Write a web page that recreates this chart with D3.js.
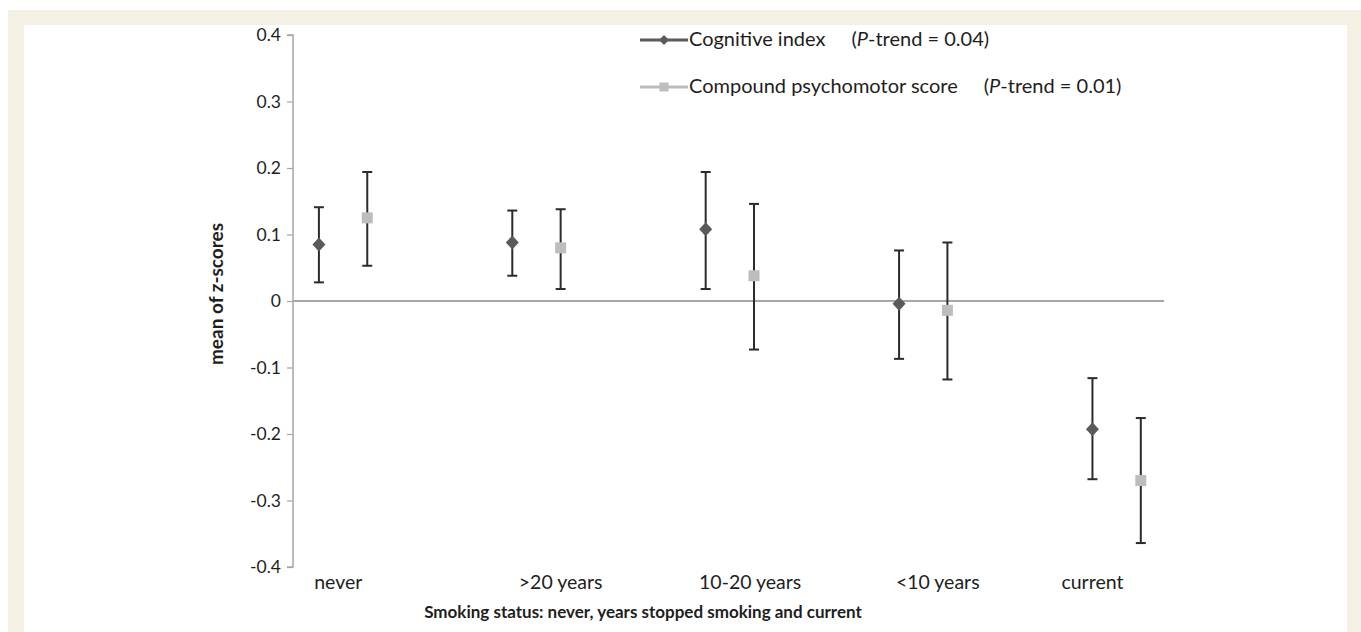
<!DOCTYPE html>
<html>
<head>
<meta charset="utf-8">
<script src="https://cdn.jsdelivr.net/npm/d3@7"></script>
<style>
  html, body { margin: 0; padding: 0; background: #ffffff; }
  svg { display: block; }
  text { font-family: Lato, "Open Sans", "Liberation Sans", sans-serif; fill: #1e1e1e; }
</style>
</head>
<body>
<svg id="chart" width="1361" height="632"></svg>
<script>
// Smoking status groups (x positions are 1..5)
const categories = ["never", ">20 years", "10-20 years", "<10 years", "current"];

// Cognitive index: mean z-score with lower / upper CI
const cognitiveMean  = [0.085, 0.088, 0.108, -0.004, -0.193];
const cognitiveLower = [0.028, 0.038, 0.018, -0.087, -0.268];
const cognitiveUpper = [0.141, 0.136, 0.194, 0.076, -0.116];

// Compound psychomotor score: mean z-score with lower / upper CI
const psychoMean  = [0.125, 0.080, 0.038, -0.014, -0.270];
const psychoLower = [0.053, 0.018, -0.073, -0.118, -0.364];
const psychoUpper = [0.194, 0.138, 0.146, 0.088, -0.176];

const yTicks = [0.4, 0.3, 0.2, 0.1, 0, -0.1, -0.2, -0.3, -0.4];
const yTickLabels = ["0.4", "0.3", "0.2", "0.1", "0", "-0.1", "-0.2", "-0.3", "-0.4"];

const svg = d3.select("#chart");
const W = 1361, H = 632;

// page frame
svg.append("rect").attr("x", 8).attr("y", 10).attr("width", W - 8).attr("height", H - 10).attr("fill", "#f4f0e3");
svg.append("rect").attr("x", 24).attr("y", 25).attr("width", 1347 - 24).attr("height", H - 25).attr("fill", "#ffffff");

const x = d3.scaleLinear().domain([0.866, 5.37]).range([293, 1164]);
const y = d3.scaleLinear().domain([-0.4, 0.4]).range([567, 35]);

const psychOffset = 0.25;

// y axis
const yAxis = d3.axisLeft(y)
  .tickValues(yTicks)
  .tickFormat((d, i) => yTickLabels[i])
  .tickSize(6)
  .tickPadding(6);
const gy = svg.append("g").attr("transform", "translate(293,0)").call(yAxis);
gy.select(".domain").attr("stroke", "#a6a6a6").attr("stroke-width", 1.5).attr("d", `M-6,${y(0.4)}H0V${y(-0.4)}H-6`);
gy.selectAll(".tick line").attr("stroke", "#a6a6a6").attr("stroke-width", 1.2);
gy.selectAll(".tick text").attr("font-size", 17.5).attr("fill", "#1e1e1e")
  .style("font-family", "Lato, 'Open Sans', sans-serif");

// zero reference line
svg.append("line")
  .attr("x1", x(0.866)).attr("x2", x(5.37))
  .attr("y1", y(0)).attr("y2", y(0))
  .attr("stroke", "#a6a6a6").attr("stroke-width", 2);

// category labels
const labelPos = [1.10, 2.25, 3.23, 4.20, 5.0];
svg.append("g").selectAll("text").data(categories).join("text")
  .attr("x", (d, i) => x(labelPos[i]))
  .attr("y", 589)
  .attr("text-anchor", "middle")
  .attr("font-size", 19.5)
  .text(d => d);

// axis titles
svg.append("text")
  .attr("x", 643).attr("y", 618)
  .attr("text-anchor", "middle")
  .attr("font-size", 17).attr("font-weight", "bold")
  .text("Smoking status: never, years stopped smoking and current");

svg.append("text")
  .attr("transform", `translate(223,${294}) rotate(-90)`)
  .attr("text-anchor", "middle")
  .attr("font-size", 19).attr("font-weight", "bold")
  .text("mean of z-scores");

// error bars
function errorBars(mean, lower, upper, offset) {
  const g = svg.append("g");
  const idx = d3.range(mean.length);
  g.selectAll("line.v").data(idx).join("line")
    .attr("x1", i => x(i + 1 + offset)).attr("x2", i => x(i + 1 + offset))
    .attr("y1", i => y(lower[i])).attr("y2", i => y(upper[i]))
    .attr("stroke", "#2b2b2b").attr("stroke-width", 2);
  [lower, upper].forEach(arr => {
    g.selectAll(null).data(idx).join("line")
      .attr("x1", i => x(i + 1 + offset) - 5).attr("x2", i => x(i + 1 + offset) + 5)
      .attr("y1", i => y(arr[i])).attr("y2", i => y(arr[i]))
      .attr("stroke", "#2b2b2b").attr("stroke-width", 2);
  });
}
errorBars(cognitiveMean, cognitiveLower, cognitiveUpper, 0);
errorBars(psychoMean, psychoLower, psychoUpper, psychOffset);

// markers
const diamond = "M0,-7L6.5,0L0,7L-6.5,0Z";
svg.append("g").selectAll("path").data(cognitiveMean).join("path")
  .attr("transform", (d, i) => `translate(${x(i + 1)},${y(d)})`)
  .attr("d", diamond).attr("fill", "#5a5a5a");

svg.append("g").selectAll("rect").data(psychoMean).join("rect")
  .attr("x", (d, i) => x(i + 1 + psychOffset) - 5.5)
  .attr("y", d => y(d) - 5.5)
  .attr("width", 11).attr("height", 11)
  .attr("fill", "#bdbdbd");

// legend
const legend = svg.append("g");
const legendItems = [
  { y: 40, color: "#5a5a5a", shape: "diamond", label: "Cognitive index", p: "0.04", gap: 26 },
  { y: 87, color: "#bdbdbd", shape: "square", label: "Compound psychomotor score", p: "0.01", gap: 26 }
];
legendItems.forEach(it => {
  legend.append("line").attr("x1", 640).attr("x2", 688).attr("y1", it.y).attr("y2", it.y)
    .attr("stroke", it.color).attr("stroke-width", 3);
  if (it.shape === "diamond") {
    legend.append("path").attr("transform", `translate(664,${it.y})`).attr("d", "M0,-5L5,0L0,5L-5,0Z").attr("fill", it.color);
  } else {
    legend.append("rect").attr("x", 659.5).attr("y", it.y - 4.5).attr("width", 9).attr("height", 9).attr("fill", it.color);
  }
  const t = legend.append("text").attr("x", 689).attr("y", it.y + 6).attr("font-size", 20);
  t.append("tspan").text(it.label);
  t.append("tspan").attr("dx", it.gap).text("(");
  t.append("tspan").attr("font-style", "italic").text("P");
  t.append("tspan").text("-trend = " + it.p + ")");
});
</script>
</body>
</html>
